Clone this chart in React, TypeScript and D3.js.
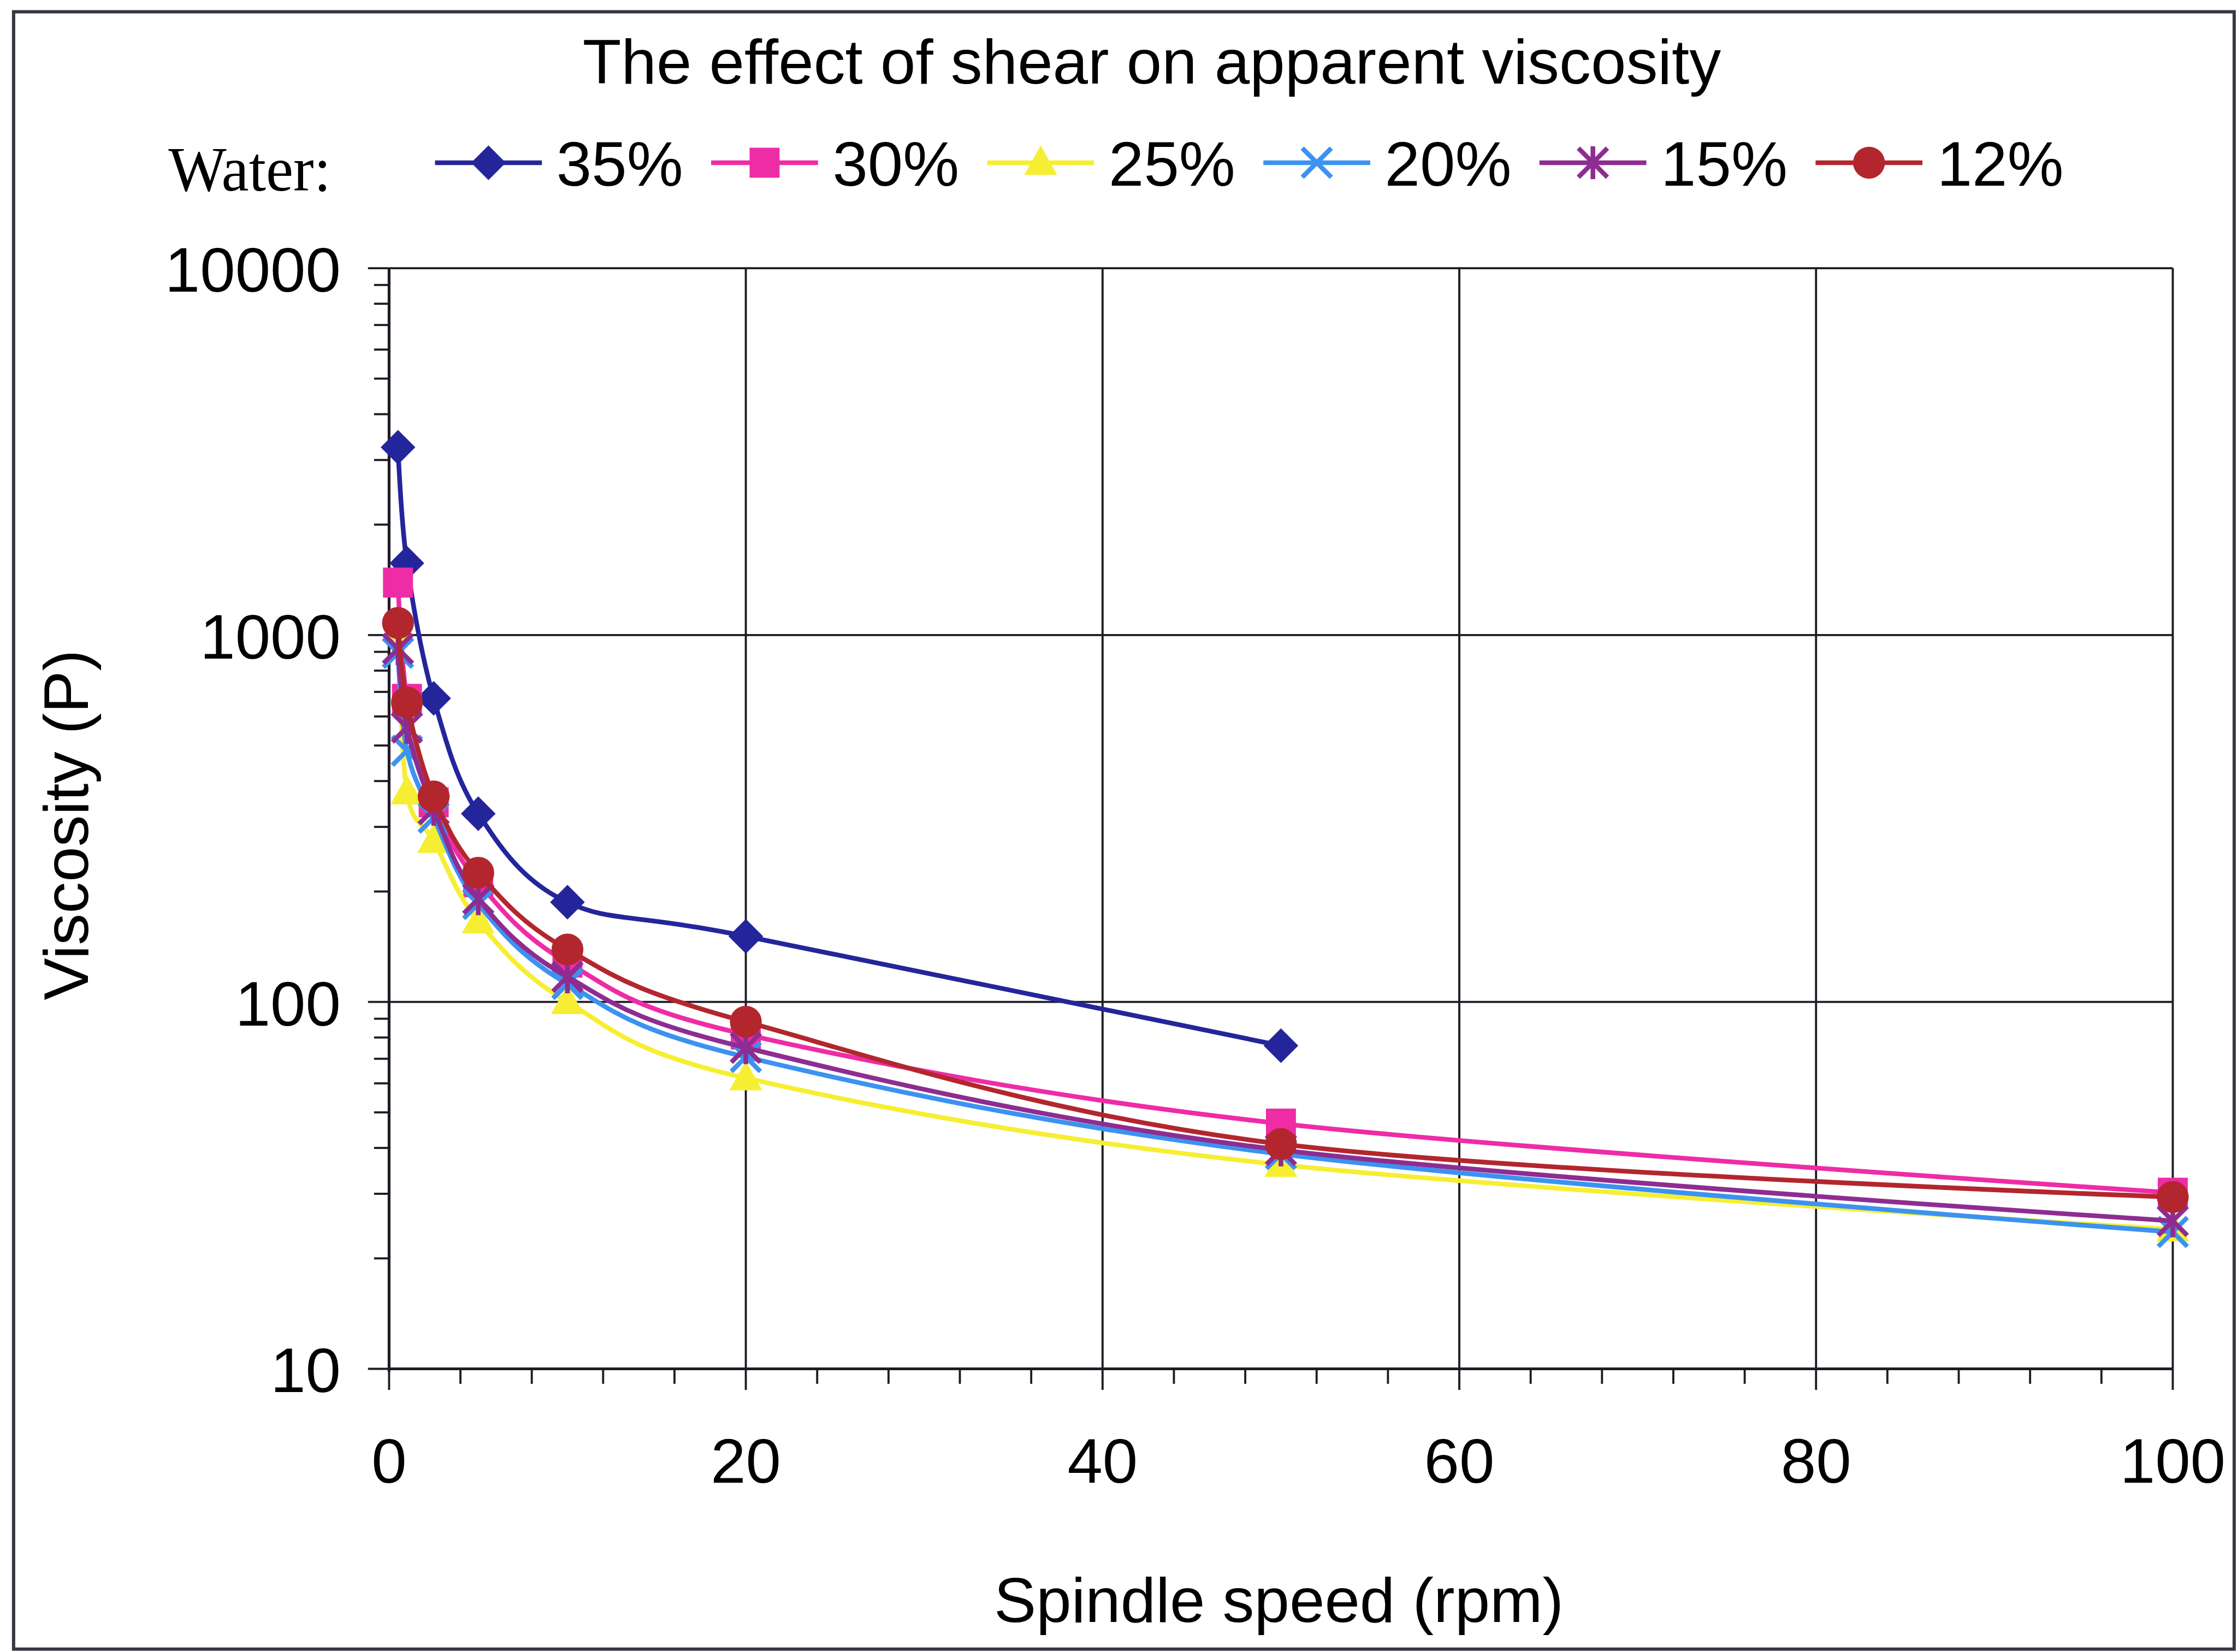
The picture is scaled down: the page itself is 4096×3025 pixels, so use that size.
import * as d3 from "d3";

// spindle speeds (rpm) and apparent viscosity (P) per water content
const speeds = [0.5, 1, 2.5, 5, 10, 20, 50, 100];
const water35 = [3250, 1570, 672, 326, 187, 151, 76];
const water30 = [1390, 670, 350, 212, 128, 81.5, 46.6, 30.2];
const water25 = [1040, 373, 275, 166, 100, 62, 36, 24.0];
const water20 = [895, 484, 318, 185, 112, 70.8, 38.5, 23.6];
const water15 = [918, 560, 335, 191, 117, 75, 39.5, 25.3];
const water12 = [1079, 655, 363, 225, 139, 88.3, 41, 29.4];

const seriesLabels = ["35%", "30%", "25%", "20%", "15%", "12%"];
const seriesValues = [water35, water30, water25, water20, water15, water12];
const seriesColors = ["#25259b", "#ee2ca6", "#f6ee33", "#3c92f0", "#8e2d91", "#b3262e"];
const seriesMarkers = ["diamond", "square", "triangle", "x", "star", "circle"];

const xTickLabels = [0, 20, 40, 60, 80, 100];
const yTickLabels = [10, 100, 1000, 10000];

// drawing is done in the reference's pixel space, viewBox scales it down
const W = 4772;
const H = 3524;
const plot = { left: 830, right: 4635, top: 572, bottom: 2920 };
const font = "'Liberation Sans', Arial, Helvetica, sans-serif";
const ink = "#1f1b24";
const lineW = 10;

function Marker({ kind, x, y, color }: { kind: string; x: number; y: number; color: string }) {
  if (kind === "diamond") {
    const r = 37;
    return <polygon points={`${x},${y - r} ${x + r},${y} ${x},${y + r} ${x - r},${y}`} fill={color} />;
  }
  if (kind === "square") {
    const r = 32;
    return <rect x={x - r} y={y - r} width={2 * r} height={2 * r} fill={color} />;
  }
  if (kind === "triangle") {
    return <polygon points={`${x},${y - 37} ${x + 35},${y + 26} ${x - 35},${y + 26}`} fill={color} />;
  }
  if (kind === "circle") {
    return <circle cx={x} cy={y} r={34} fill={color} />;
  }
  const r = 31;
  return (
    <g stroke={color} strokeWidth={10} strokeLinecap="butt">
      <line x1={x - r} y1={y - r} x2={x + r} y2={y + r} />
      <line x1={x - r} y1={y + r} x2={x + r} y2={y - r} />
      {kind === "star" && <line x1={x} y1={y - r - 4} x2={x} y2={y + r + 4} />}
    </g>
  );
}

export default function App() {
  const x = d3.scaleLinear().domain([0, 100]).range([plot.left, plot.right]);
  const y = d3.scaleLog().domain([10, 10000]).range([plot.bottom, plot.top]);

  const xMinor = d3.range(0, 101, 4).filter((v) => v % 20 !== 0);
  const yMinor = d3.range(1, 4).flatMap((e) => d3.range(2, 10).map((m) => m * Math.pow(10, e)));

  const line = d3
    .line<[number, number]>()
    .x((d) => x(d[0]))
    .y((d) => y(d[1]))
    .curve(d3.curveCardinal.tension(0));

  return (
    <svg
      width={4096}
      height={3025}
      viewBox={`0 0 ${W} ${H}`}
      style={{ position: "absolute", left: 0, top: 0, display: "block", background: "#fff" }}
    >
      <rect x={0} y={0} width={W} height={H} fill="#fff" />
      {/* outer frame */}
      <rect x={29} y={25} width={4737} height={3493} fill="none" stroke="#3b3542" strokeWidth={7} />

      {/* title */}
      <text x={2457} y={178} textAnchor="middle" fontFamily={font} fontSize={135} fill="#000">
        The effect of shear on apparent viscosity
      </text>

      {/* legend */}
      <text
        x={359}
        y={407}
        fontFamily="'Liberation Serif', 'Times New Roman', serif"
        fontSize={135}
        textLength={347}
        lengthAdjust="spacingAndGlyphs"
        fill="#000"
      >
        Water:
      </text>
      {seriesLabels.map((label, i) => {
        const x0 = 928 + i * 589;
        return (
          <g key={label}>
            <line x1={x0} y1={347} x2={x0 + 228} y2={347} stroke={seriesColors[i]} strokeWidth={lineW} />
            <Marker kind={seriesMarkers[i]} x={x0 + 114} y={347} color={seriesColors[i]} />
            <text x={x0 + 259} y={396} fontFamily={font} fontSize={135} fill="#000">
              {label}
            </text>
          </g>
        );
      })}

      {/* gridlines */}
      {yTickLabels.slice(1).map((v) => (
        <line key={"gy" + v} x1={plot.left} x2={plot.right} y1={y(v)} y2={y(v)} stroke={ink} strokeWidth={4.5} />
      ))}
      {xTickLabels.slice(1).map((v) => (
        <line key={"gx" + v} x1={x(v)} x2={x(v)} y1={plot.top} y2={plot.bottom} stroke={ink} strokeWidth={4.5} />
      ))}

      {/* ticks */}
      {xTickLabels.map((v) => (
        <line key={"tx" + v} x1={x(v)} x2={x(v)} y1={plot.bottom} y2={plot.bottom + 45} stroke={ink} strokeWidth={4.5} />
      ))}
      {xMinor.map((v) => (
        <line key={"mx" + v} x1={x(v)} x2={x(v)} y1={plot.bottom} y2={plot.bottom + 32} stroke={ink} strokeWidth={4.5} />
      ))}
      {yTickLabels.map((v) => (
        <line key={"ty" + v} x1={plot.left - 45} x2={plot.left} y1={y(v)} y2={y(v)} stroke={ink} strokeWidth={4.5} />
      ))}
      {yMinor.map((v) => (
        <line key={"my" + v} x1={plot.left - 32} x2={plot.left} y1={y(v)} y2={y(v)} stroke={ink} strokeWidth={4.5} />
      ))}

      {/* axis lines */}
      <line x1={plot.left} x2={plot.left} y1={plot.top} y2={plot.bottom + 6} stroke={ink} strokeWidth={6} />
      <line x1={plot.left - 3} x2={plot.right} y1={plot.bottom} y2={plot.bottom} stroke={ink} strokeWidth={6} />

      {/* tick labels */}
      {xTickLabels.map((v) => (
        <text key={"lx" + v} x={x(v)} y={3163} textAnchor="middle" fontFamily={font} fontSize={135} fill="#000">
          {v}
        </text>
      ))}
      {yTickLabels.map((v) => (
        <text
          key={"ly" + v}
          x={727}
          y={y(v) + 50}
          textAnchor="end"
          fontFamily={font}
          fontSize={135}
          fill="#000"
        >
          {v}
        </text>
      ))}

      {/* axis titles */}
      <text x={2728} y={3460} textAnchor="middle" fontFamily={font} fontSize={135} fill="#000">
        Spindle speed (rpm)
      </text>
      <text
        transform="translate(187,1760) rotate(-90)"
        textAnchor="middle"
        fontFamily={font}
        fontSize={135}
        fill="#000"
      >
        Viscosity (P)
      </text>

      {/* series */}
      {seriesValues.map((vals, i) => {
        const pts = vals.map((v, j) => [speeds[j], v] as [number, number]);
        return (
          <g key={seriesLabels[i]}>
            <path d={line(pts) ?? ""} fill="none" stroke={seriesColors[i]} strokeWidth={lineW} strokeLinejoin="round" />
            {pts.map((p, j) => (
              <Marker key={j} kind={seriesMarkers[i]} x={x(p[0])} y={y(p[1])} color={seriesColors[i]} />
            ))}
          </g>
        );
      })}
    </svg>
  );
}
